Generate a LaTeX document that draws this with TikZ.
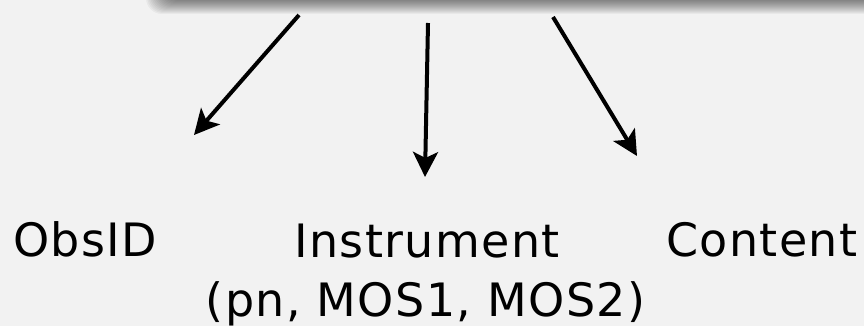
\documentclass[tikz,border=0pt]{standalone}
\usepackage{fontspec}
\setmainfont{DejaVu Sans}[LetterSpace=3]
\usetikzlibrary{arrows.meta}
\definecolor{paper}{RGB}{242,242,242}
\tikzset{
  flow/.style={line width=4pt, -{Stealth[length=25pt, width=25pt, inset=6pt]}},
  label/.style={inner sep=0pt, font=\fontsize{46}{54}\selectfont, text=black},
}
\begin{document}
\begin{tikzpicture}[x=1pt, y=-1pt]
  \useasboundingbox (0,0) rectangle (864,326);
  \fill[paper] (0,0) rectangle (864,326);

  % soft shadow under the panel sitting above the frame
  \begin{scope}
    \clip (0,0) rectangle (864,326);
    \foreach \i in {0,...,14} {
      \fill[black, opacity=0.04, rounded corners=16pt]
        (146+\i*1.3,-60) rectangle (900,14-\i);
    }
    \fill[paper, rounded corners=6pt] (164,-80) rectangle (900,-3);
  \end{scope}

  % arrow ends
  \coordinate (ltail) at (299,15);
  \coordinate (lhead) at (194,135);
  \coordinate (mtail) at (428,23);
  \coordinate (mhead) at (425,177);
  \coordinate (rtail) at (553,17);
  \coordinate (rhead) at (637,156);

  \draw[flow] (ltail) -- (lhead);
  \draw[flow] (mtail) -- (mhead);
  \draw[flow] (rtail) -- (rhead);

  % labels
  \node[label, anchor=base west] (obsid) at (13,256) {ObsID};
  \node[label, anchor=base] (instr) at (427,257) {Instrument};
  \node[label, anchor=base] (instrsub) at (425.5,316) {(pn, MOS1, MOS2)};
  \node[label, anchor=base west] (content) at (666,256) {Content};
\end{tikzpicture}
\end{document}
